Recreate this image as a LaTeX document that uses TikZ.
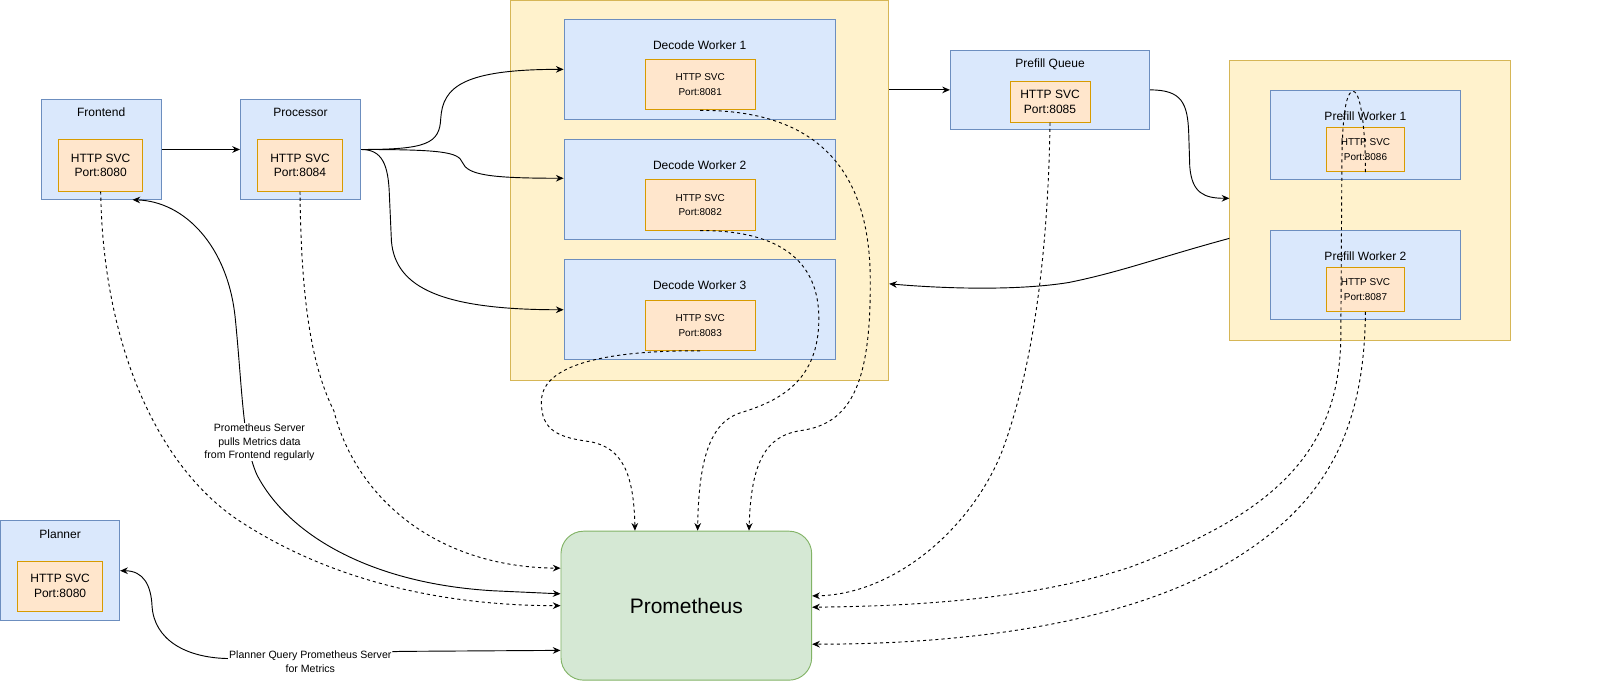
\documentclass[tikz,border=0pt]{standalone}
\usepackage{fontspec}
\setmainfont{Liberation Sans}
\usetikzlibrary{arrows.meta}
\definecolor{bluefill}{HTML}{DAE8FC}
\definecolor{bluestroke}{HTML}{6C8EBF}
\definecolor{orangefill}{HTML}{FFE6CC}
\definecolor{orangestroke}{HTML}{D79B00}
\definecolor{yellowfill}{HTML}{FFF2CC}
\definecolor{yellowstroke}{HTML}{D6B656}
\definecolor{greenfill}{HTML}{D5E8D4}
\definecolor{greenstroke}{HTML}{82B366}
\tikzset{
  >={Stealth[length=7.5pt,width=6.5pt,inset=2.5pt]},
  svcbox/.style={draw=bluestroke, fill=bluefill, line width=0.9pt, inner sep=0pt},
  portbox/.style={draw=orangestroke, fill=orangefill, line width=0.9pt, inner sep=0pt, align=center},
  groupbox/.style={draw=yellowstroke, fill=yellowfill, line width=0.9pt, inner sep=0pt},
  promstyle/.style={draw=greenstroke, fill=greenfill, line width=0.9pt, rounded corners=22pt, inner sep=0pt, font=\fontsize{20.4}{24}\selectfont},
  ttl/.style={inner sep=0pt, font=\fontsize{11.7}{14}\selectfont},
  bigtxt/.style={font=\fontsize{11.7}{14.3}\selectfont},
  smalltxt/.style={font=\fontsize{9.7}{14.4}\selectfont},
  conn/.style={line width=0.9pt, ->},
  biconn/.style={line width=0.9pt, <->},
  dconn/.style={line width=0.9pt, ->, dash pattern=on 3pt off 3pt},
  elabel/.style={fill=white, inner sep=1pt, align=center},
}
\begin{document}
\begin{tikzpicture}[x=1pt,y=-1pt]
\useasboundingbox (0,0) rectangle (1568,662.8);
% containers
\node[groupbox, minimum width=368pt, minimum height=369.5pt] (dc) at (681,185.25) {};
\node[groupbox, minimum width=273pt, minimum height=272pt] (pc) at (1333.5,195) {};
% frontend
\node[svcbox, minimum width=117pt, minimum height=97pt] (fe) at (98.5,145.5) {};
\node[ttl] (fet) at (98.5,109) {Frontend};
\node[portbox, bigtxt, minimum width=82pt, minimum height=50pt] (fei) at (98,161) {HTTP SVC\\Port:8080};
% processor
\node[svcbox, minimum width=117pt, minimum height=97pt] (pr) at (292.5,145.5) {};
\node[ttl] (prt) at (292.5,109) {Processor};
\node[portbox, bigtxt, minimum width=82pt, minimum height=50pt] (pri) at (292,161) {HTTP SVC\\Port:8084};
% decode workers
\node[svcbox, minimum width=264pt, minimum height=97pt] (dw1) at (681,67.5) {};
\node[ttl] (dw1t) at (681,44) {Decode Worker 1};
\node[portbox, smalltxt, minimum width=107pt, minimum height=49pt] (dw1i) at (681.5,82.5) {HTTP SVC\\Port:8081};
\node[svcbox, minimum width=264pt, minimum height=97pt] (dw2) at (681,184.5) {};
\node[ttl] (dw2t) at (681,161) {Decode Worker 2};
\node[portbox, smalltxt, minimum width=107pt, minimum height=49pt] (dw2i) at (681.5,199.5) {HTTP SVC\\Port:8082};
\node[svcbox, minimum width=264pt, minimum height=97pt] (dw3) at (681,301.5) {};
\node[ttl] (dw3t) at (681,278) {Decode Worker 3};
\node[portbox, smalltxt, minimum width=107pt, minimum height=49pt] (dw3i) at (681.5,316.5) {HTTP SVC\\Port:8083};
% prefill queue
\node[svcbox, minimum width=194pt, minimum height=77pt] (pq) at (1022,87.5) {};
\node[ttl] (pqt) at (1022,62.5) {Prefill Queue};
\node[portbox, bigtxt, minimum width=78pt, minimum height=40pt] (pqi) at (1022,99) {HTTP SVC\\Port:8085};
% prefill workers
\node[svcbox, minimum width=184pt, minimum height=87pt] (pw1) at (1329,131.5) {};
\node[ttl] (pw1t) at (1329,113) {Prefill Worker 1};
\node[portbox, smalltxt, minimum width=76pt, minimum height=43pt] (pw1i) at (1329,145.5) {HTTP SVC\\Port:8086};
\node[svcbox, minimum width=184pt, minimum height=87pt] (pw2) at (1329,267.5) {};
\node[ttl] (pw2t) at (1329,249) {Prefill Worker 2};
\node[portbox, smalltxt, minimum width=76pt, minimum height=43pt] (pw2i) at (1329,281.5) {HTTP SVC\\Port:8087};
% planner
\node[svcbox, minimum width=116pt, minimum height=97pt] (pl) at (58.5,555.5) {};
\node[ttl] (plt) at (58.5,520) {Planner};
\node[portbox, bigtxt, minimum width=83pt, minimum height=49pt] (pli) at (58.5,570.5) {HTTP SVC\\Port:8080};
% prometheus
\node[promstyle, minimum width=244pt, minimum height=145pt] (pm) at (668,589.5) {Prometheus};

% solid connectors
\draw[conn] (fe.east) -- (pr.west);
\draw[conn] (pr.east) .. controls (415,145.5) and (428,140) .. (429,115) .. controls (431,85) and (450,67.5) .. (dw1.west);
\draw[conn] (pr.east) .. controls (430,145.5) and (446,148) .. (450,158) .. controls (455,170) and (475,173.5) .. ([yshift=11pt]dw2.west);
\draw[conn] (pr.east) .. controls (372,145.5) and (378,160) .. (379,190) -- (381,235) .. controls (385,280) and (430,301.5) .. (dw3.west);
\draw[conn] (dc.east |- pq.west) -- (pq.west);
\draw[conn] (pq.east) .. controls (1150,87.5) and (1156,100) .. (1157,130) -- (1158,162) .. controls (1160,188) and (1172,193) .. ([yshift=2pt]pc.west);
\draw[conn] ([yshift=-37pt]pc.west) .. controls (1130,250) and (1090,265) .. (1040,275) .. controls (990,283) and (920,281) .. ([yshift=-91pt]dc.east);
\draw[biconn] ([xshift=30.5pt]fe.south) .. controls (180,196) and (222,240) .. (229,310) .. controls (236,380) and (236,430) .. (250,462) .. controls (280,520) and (360,568) .. (480,575) -- ([yshift=11.5pt]pm.west);
\draw[biconn] (pl.east) .. controls (140,555.5) and (147,570) .. (148,590) .. controls (150,622) and (180,641) .. (225,641) -- (390,634) -- ([yshift=-43.5pt]pm.west);

% dashed connectors
\draw[dconn] (fei.south) .. controls (100,330) and (150,450) .. (230,505) .. controls (320,565) and (430,589.5) .. (pm.west);
\draw[dconn] (pri.south) .. controls (293,300) and (305,360) .. (325,400) .. controls (345,480) and (420,552) .. ([yshift=36.5pt]pm.west);
\draw[dconn] (dw1i.south) .. controls (790,107) and (846,160) .. (847,270) .. controls (848,370) and (830,412) .. (780,419) .. controls (745,424) and (731,450) .. ([xshift=61pt]pm.north);
\draw[dconn] (dw2i.south) .. controls (760,224) and (797,255) .. (797,310) .. controls (797,370) and (760,390) .. (720,402) .. controls (690,412) and (680,450) .. ([xshift=11pt]pm.north);
\draw[dconn] (dw3i.south) .. controls (600,341) and (528,352) .. (527,390) .. controls (526,420) and (545,426) .. (575,430) .. controls (605,436) and (617,460) .. ([xshift=-50pt]pm.north);
\draw[dconn] (pqi.south) .. controls (1020,250) and (1005,360) .. (975,440) .. controls (945,515) and (870,579) .. ([yshift=9.5pt]pm.east);
\draw[dconn] (pw1i.south) .. controls (1329,130) and (1325,89) .. (1317,89) .. controls (1309,89) and (1306,120) .. (1306,170) -- (1305,330) .. controls (1303,440) and (1240,500) .. (1100,552) .. controls (1000,585) and (880,590) .. ([yshift=-1.5pt]pm.east);
\draw[dconn] (pw2i.south) .. controls (1328,420) and (1290,490) .. (1200,545) .. controls (1100,605) and (950,627) .. ([yshift=-37.5pt]pm.east);

% edge labels
\node[elabel, font=\fontsize{10.3}{12.7}\selectfont] (lbl1) at (252.5,430.5) {Prometheus Server\\pulls Metrics data\\from Frontend regularly};
\node[elabel, font=\fontsize{10.3}{14}\selectfont] (lbl2) at (302,644.3) {Planner Query Prometheus Server\\for Metrics};
\end{tikzpicture}
\end{document}
